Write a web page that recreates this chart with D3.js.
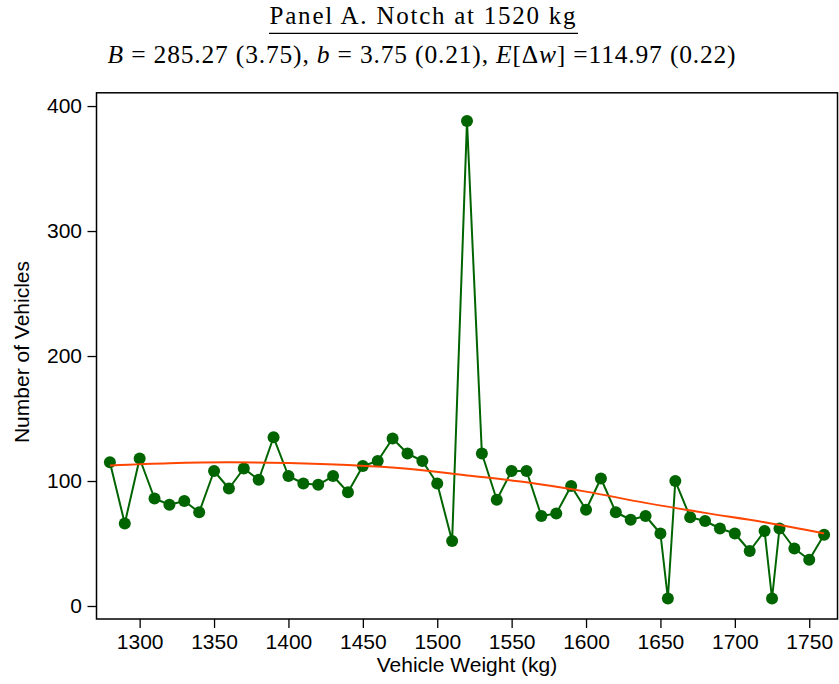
<!DOCTYPE html>
<html>
<head>
<meta charset="utf-8">
<script src="https://cdn.jsdelivr.net/npm/d3@7"></script>
<style>
  body { margin: 0; background: #fff; }
  svg { display: block; }
</style>
</head>
<body>
<div id="chart"></div>
<script>
// ── Data ────────────────────────────────────────────────────────────────────
const weights = [1280, 1290, 1300, 1310, 1320, 1330, 1340, 1350, 1360, 1370,
                 1380, 1390, 1400, 1410, 1420, 1430, 1440, 1450, 1460, 1470,
                 1480, 1490, 1500, 1510, 1520, 1530, 1540, 1550, 1560, 1570,
                 1580, 1590, 1600, 1610, 1620, 1630, 1640, 1650, 1655, 1660,
                 1670, 1680, 1690, 1700, 1710, 1720, 1725, 1730, 1740, 1750, 1760];
const counts  = [115, 66, 118, 86, 81, 84, 75, 108, 94, 110,
                 101, 135, 104, 98, 97, 104, 91, 112, 116, 134,
                 122, 116, 98, 52, 388, 122, 85, 108, 108, 72,
                 74, 96, 77, 102, 75, 69, 72, 58, 6, 100,
                 71, 68, 62, 58, 44, 60, 6, 62, 46, 37, 57];

// counterfactual fit (orange line)
const fitWeights = [1280, 1320, 1360, 1400, 1440, 1480, 1520, 1560, 1600, 1640, 1680, 1720, 1760];
const fitValues  = [112.5, 114.3, 115, 114.4, 112.8, 109.8, 104.5, 99, 91.5, 82.5, 74.5, 67, 58];

const xTicks = [1300, 1350, 1400, 1450, 1500, 1550, 1600, 1650, 1700, 1750];
const yTicks = [0, 100, 200, 300, 400];

const titleText = 'Panel A. Notch at 1520 kg';
// second title line, pieces as [text, italic?]
const subtitleParts = [
  ['B', true], [' = 285.27 (3.75), ', false],
  ['b', true], [' = 3.75 (0.21), ', false],
  ['E', true], ['[Δ', false], ['w', true], ['] =114.97 (0.22)', false],
];

// ── Layout ──────────────────────────────────────────────────────────────────
const W = 839, H = 684;
const FRAME = { left: 96.5, right: 837.5, top: 92.8, bottom: 619 };
const GREEN = '#006400';
const RED   = '#ff4500';
const SANS  = '"Liberation Sans", Arial, Helvetica, sans-serif';
const SERIF = '"Liberation Serif", "Times New Roman", serif';

const svg = d3.select('#chart').append('svg')
  .attr('width', W).attr('height', H);

const x = d3.scaleLinear().domain([1271, 1769]).range([FRAME.left, FRAME.right]);
const y = d3.scaleLinear().domain([-10.4, 410.6]).range([FRAME.bottom, FRAME.top]);

// stretch text with letter-spacing to a target width (CM is wider than Times)
function fitWidth(sel, target) {
  const node = sel.node();
  const len = node.getComputedTextLength();
  const n = node.textContent.length;
  if (n > 1) sel.attr('letter-spacing', (target - len) / (n - 1));
}

// ── Titles ──────────────────────────────────────────────────────────────────
const title = svg.append('text')
  .attr('x', 423.5).attr('y', 24)
  .attr('text-anchor', 'middle')
  .attr('font-family', SERIF).attr('font-size', 25)
  .attr('fill', '#000')
  .text(titleText);
fitWidth(title, 306);

svg.append('line')
  .attr('x1', 269).attr('x2', 578)
  .attr('y1', 33.3).attr('y2', 33.3)
  .attr('stroke', '#000').attr('stroke-width', 1.2);

const sub = svg.append('text')
  .attr('x', 422).attr('y', 63)
  .attr('text-anchor', 'middle')
  .attr('font-family', SERIF).attr('font-size', 25.5)
  .attr('fill', '#000');
subtitleParts.forEach(([t, it]) => {
  sub.append('tspan')
    .attr('font-style', it ? 'italic' : 'normal')
    .text(t);
});
fitWidth(sub, 628);

// ── Axes ────────────────────────────────────────────────────────────────────
const xAxis = svg.append('g')
  .attr('transform', `translate(0,${FRAME.bottom})`)
  .call(d3.axisBottom(x).tickValues(xTicks).tickSize(9).tickPadding(6).tickFormat(d3.format('d')));

const yAxis = svg.append('g')
  .attr('transform', `translate(${FRAME.left},0)`)
  .call(d3.axisLeft(y).tickValues(yTicks).tickSize(9).tickPadding(5.5).tickFormat(d3.format('d')));

[xAxis, yAxis].forEach(ax => {
  ax.select('.domain').remove();
  ax.selectAll('.tick line').attr('stroke', '#000').attr('stroke-width', 1.3);
  ax.selectAll('.tick text')
    .attr('fill', '#000')
    .attr('font-family', SANS)
    .attr('font-size', 21);
});

// plot frame
svg.append('rect')
  .attr('x', FRAME.left).attr('y', FRAME.top)
  .attr('width', FRAME.right - FRAME.left)
  .attr('height', FRAME.bottom - FRAME.top)
  .attr('fill', 'none')
  .attr('stroke', '#000')
  .attr('stroke-width', 1.5);

// axis titles
svg.append('text')
  .attr('x', (FRAME.left + FRAME.right) / 2).attr('y', 672)
  .attr('text-anchor', 'middle')
  .attr('font-family', SANS).attr('font-size', 21)
  .attr('fill', '#000')
  .text('Vehicle Weight (kg)');

svg.append('text')
  .attr('transform', 'translate(29,352) rotate(-90)')
  .attr('text-anchor', 'middle')
  .attr('font-family', SANS).attr('font-size', 21)
  .attr('fill', '#000')
  .text('Number of Vehicles');

// ── Observed counts: connected markers ──────────────────────────────────────
const obs = weights.map((w, i) => [w, counts[i]]);

svg.append('path')
  .datum(obs)
  .attr('fill', 'none')
  .attr('stroke', GREEN)
  .attr('stroke-width', 2)
  .attr('stroke-linejoin', 'round')
  .attr('d', d3.line().x(d => x(d[0])).y(d => y(d[1])));

svg.append('g')
  .selectAll('circle')
  .data(obs)
  .join('circle')
    .attr('cx', d => x(d[0]))
    .attr('cy', d => y(d[1]))
    .attr('r', 6)
    .attr('fill', GREEN);

// ── Counterfactual fit (drawn on top) ───────────────────────────────────────
const fit = fitWeights.map((w, i) => [w, fitValues[i]]);

svg.append('path')
  .datum(fit)
  .attr('fill', 'none')
  .attr('stroke', RED)
  .attr('stroke-width', 2)
  .attr('d', d3.line().curve(d3.curveMonotoneX).x(d => x(d[0])).y(d => y(d[1])));
</script>
</body>
</html>
